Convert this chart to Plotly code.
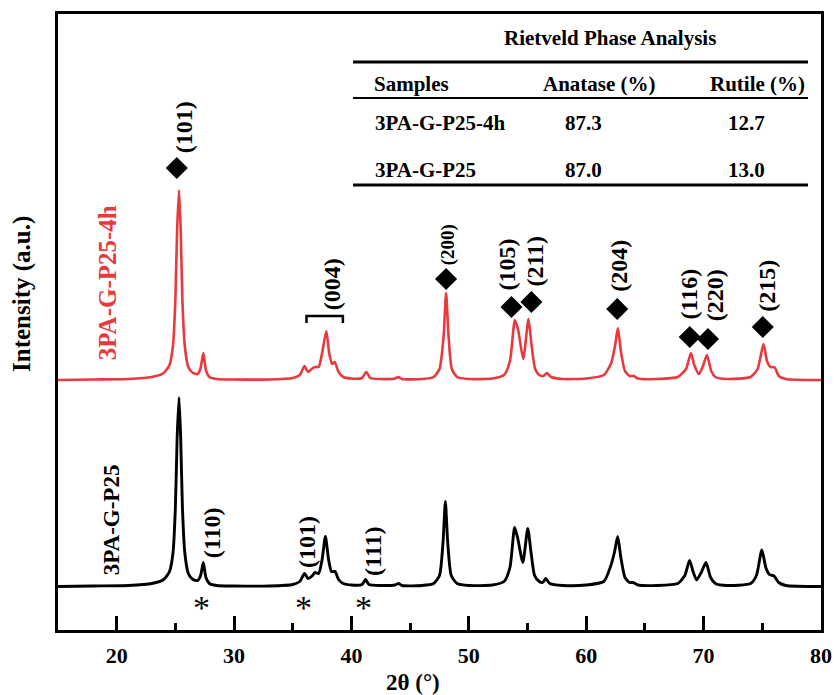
import plotly.graph_objects as go

# ---- diffraction patterns (2θ in degrees, intensity in a.u. above each baseline) ----
two_theta_p25 = [15.0, 18.0, 21.0, 23.0, 24.0, 24.5, 24.8, 25.0, 25.15, 25.31, 25.45, 25.6, 25.8, 26.1,
                 26.5, 26.9, 27.15, 27.38, 27.6, 27.9, 28.5, 30.0, 33.0, 35.0, 35.6, 36.0, 36.3, 36.6,
                 36.9, 37.2, 37.5, 37.78, 38.05, 38.3, 38.6, 38.9, 39.3, 40.0, 40.9, 41.2, 41.5, 42.5,
                 43.7, 44.0, 44.3, 46.0, 47.0, 47.5, 47.8, 48.0, 48.2, 48.5, 49.0, 50.0, 52.0, 53.0,
                 53.5, 53.9, 54.15, 54.6, 55.02, 55.3, 55.6, 56.0, 56.3, 56.55, 56.9, 58.0, 60.0, 61.5,
                 62.07, 62.4, 62.68, 62.95, 63.3, 63.7, 64.0, 64.4, 66.0, 67.8, 68.4, 68.8, 69.1, 69.4,
                 69.8, 70.2, 70.6, 71.0, 72.0, 74.0, 74.5, 74.96, 75.3, 75.6, 76.0, 76.4, 77.0, 80.0]
intensity_p25 = [1, 1.5, 2, 4, 8, 16, 35, 80, 150, 190, 150, 80, 35, 14,
                 8, 7, 12, 25, 10, 4, 2, 1.5, 1.5, 3, 6, 14, 9, 11,
                 15, 14, 28, 51, 28, 16, 16, 8, 4, 2.5, 3, 8, 3, 2,
                 2.5, 4, 2, 2, 4, 12, 45, 86, 45, 12, 4, 2, 2.5, 6,
                 20, 60, 50, 25, 59, 35, 12, 6, 5, 9, 4, 2, 2.5, 6,
                 21, 35, 51, 30, 10, 5, 5, 2.5, 2, 4, 12, 27, 16, 7.5,
                 15, 25, 10, 4, 2, 4, 12, 37.5, 20, 13, 11.5, 5, 2, 1]

two_theta_4h = [15.0, 18.0, 21.0, 23.0, 24.0, 24.5, 24.8, 25.0, 25.15, 25.31, 25.45, 25.6, 25.8, 26.1,
                26.5, 26.9, 27.15, 27.38, 27.6, 27.9, 28.5, 30.0, 33.0, 35.0, 35.6, 36.0, 36.3, 36.6,
                36.9, 37.2, 37.5, 37.86, 38.1, 38.35, 38.57, 38.9, 39.3, 40.0, 40.9, 41.26, 41.6, 42.5,
                43.7, 44.0, 44.3, 46.0, 47.0, 47.5, 47.85, 48.06, 48.27, 48.55, 49.0, 50.0, 52.0, 53.0,
                53.5, 53.92, 54.2, 54.63, 55.08, 55.35, 55.65, 56.0, 56.35, 56.64, 57.0, 58.0, 60.0, 61.5,
                62.13, 62.45, 62.7, 62.95, 63.3, 63.7, 64.06, 64.4, 66.0, 67.8, 68.5, 68.92, 69.2, 69.6,
                69.95, 70.28, 70.65, 71.0, 72.0, 74.0, 74.6, 75.1, 75.4, 75.7, 76.04, 76.4, 77.0, 80.0]
intensity_4h = [1, 1.5, 2, 4, 8, 16, 36, 82, 152, 191, 152, 80, 35, 14,
                8, 7, 13, 28, 11, 4, 2, 1.5, 1.5, 3, 6, 15, 9, 12,
                14, 14, 28, 50, 28, 17, 19, 9, 4, 2.5, 3, 9, 3, 2,
                2.5, 4, 2, 2, 4, 12, 45, 88, 45, 12, 4, 2, 2.5, 6,
                20, 61, 51, 22, 62, 35, 12, 6, 5, 8, 4, 2, 2.5, 6,
                18, 35, 53, 30, 10, 5, 5, 2.5, 2, 4, 12, 28, 16, 7,
                15, 26, 10, 4, 2, 4, 12, 37, 20, 14, 13.7, 5, 2, 1]

offset_4h = 206.5  # vertical stacking offset of the 4 h pattern

# ---- anatase reflections marked on the 4 h pattern ----
anatase_hkl = ["(101)", "(200)", "(105)", "(211)", "(204)", "(116)", "(220)", "(215)"]
anatase_mark_x = [25.12, 48.06, 53.63, 55.33, 62.64, 68.82, 70.37, 75.04]
anatase_mark_y = [419.5, 308.5, 280.5, 285.5, 278.5, 250.5, 248.5, 260.5]
anatase_label_x = [25.75, 48.25, 53.29, 55.56, 62.78, 68.79, 71.0, 75.38]
anatase_label_y = [460.5, 342.5, 323.5, 326.0, 321.5, 293.5, 292.5, 301.5]
anatase_label_size = [24, 19, 24, 24, 24, 24, 24, 24]

# ---- rutile reflections marked on the P25 pattern ----
rutile_hkl = ["(110)", "(101)", "(111)"]
rutile_star_x = [27.24, 35.88, 41.06]
rutile_label_x = [28.09, 36.16, 41.77]
rutile_label_y = [55.0, 45.8, 35.8]

# ---- Rietveld phase fractions ----
table_title = "Rietveld Phase Analysis"
table_header = ["Samples", "Anatase (%)", "Rutile (%)"]
samples = ["3PA-G-P25-4h", "3PA-G-P25"]
anatase_pct = ["87.3", "87.0"]
rutile_pct = ["12.7", "13.0"]

RED = "#E8393D"
FONT = "Liberation Serif"

W, H = 837, 695
ML, MR, MT, MB = 58, 16, 14, 65


def px(x):
    return (x - ML) / (W - ML - MR)


def py(y):
    return (H - MB - y) / (H - MT - MB)


def note(x, y, text, size, ref="data", color="black", angle=0, xanchor="center"):
    xr, yr = ("x", "y") if ref == "data" else ("paper", "paper")
    return dict(x=x, y=y, xref=xr, yref=yr, text=text, textangle=angle, showarrow=False,
                xanchor=xanchor, yanchor="middle",
                font=dict(family=FONT, size=size, color=color))


fig = go.Figure()

fig.add_trace(go.Scatter(
    x=two_theta_p25, y=intensity_p25, mode="lines",
    line=dict(color="black", width=2.9, shape="spline", smoothing=0.6),
    showlegend=False, hoverinfo="skip"))

fig.add_trace(go.Scatter(
    x=two_theta_4h, y=[v + offset_4h for v in intensity_4h], mode="lines",
    line=dict(color=RED, width=2.6, shape="spline", smoothing=0.6),
    showlegend=False, hoverinfo="skip"))

# anatase diamonds
fig.add_trace(go.Scatter(
    x=anatase_mark_x, y=anatase_mark_y, mode="markers",
    marker=dict(symbol="diamond", size=17, color="black"),
    showlegend=False, hoverinfo="skip"))

annotations = []
for hkl, x, y, s in zip(anatase_hkl, anatase_label_x, anatase_label_y, anatase_label_size):
    annotations.append(note(x, y, f"<b>{hkl}</b>", s, angle=-90))

# (004) bracket label
annotations.append(note(38.37, 303.5, "<b>(004)</b>", 24, angle=-90))

for hkl, xs, xl, yl in zip(rutile_hkl, rutile_star_x, rutile_label_x, rutile_label_y):
    annotations.append(note(xl, yl, f"<b>{hkl}</b>", 24, angle=-90))
    annotations.append(note(xs, -20, "*", 34))

# sample names
annotations.append(note(19.2, 304.5, "<b>3PA-G-P25-4h</b>", 25, color=RED, angle=-90))
annotations.append(note(19.54, 67.5, "<b>3PA-G-P25</b>", 23, angle=-90))

# axis titles
annotations.append(note(px(22), py(294), "<b>Intensity (a.u.)</b>", 25, ref="paper", angle=-90))
annotations.append(note(px(413), py(682), "<b>2θ (°)</b>", 23, ref="paper"))

# table text
TS = 21
annotations.append(note(px(610), py(38), f"<b>{table_title}</b>", TS, ref="paper"))
annotations.append(note(px(372), py(84), f"<b>{table_header[0]}</b>", TS, ref="paper", xanchor="left"))
annotations.append(note(px(599), py(84), f"<b>{table_header[1]}</b>", TS, ref="paper"))
annotations.append(note(px(757), py(84), f"<b>{table_header[2]}</b>", TS, ref="paper"))
for row_y, s, a, r in zip([123, 170], samples, anatase_pct, rutile_pct):
    annotations.append(note(px(373), py(row_y), f"<b>{s}</b>", TS, ref="paper", xanchor="left"))
    annotations.append(note(px(583), py(row_y), f"<b>{a}</b>", TS, ref="paper"))
    annotations.append(note(px(746), py(row_y), f"<b>{r}</b>", TS, ref="paper"))

shapes = [
    dict(type="line", xref="paper", yref="paper", x0=px(353), x1=px(808), y0=py(62), y1=py(62),
         line=dict(color="black", width=3)),
    dict(type="line", xref="paper", yref="paper", x0=px(353), x1=px(808), y0=py(98), y1=py(98),
         line=dict(color="black", width=2)),
    dict(type="line", xref="paper", yref="paper", x0=px(353), x1=px(808), y0=py(185), y1=py(185),
         line=dict(color="black", width=3)),
    # bracket spanning the (004) region of the 4 h pattern
    dict(type="path", xref="x", yref="y",
         path="M 36.17 264.5 L 36.17 271.5 L 39.27 271.5 L 39.27 264.5",
         line=dict(color="black", width=2.5)),
]

fig.update_layout(
    template="none",
    width=W, height=H, autosize=False,
    margin=dict(l=ML, r=MR, t=MT, b=MB, pad=0, autoexpand=False),
    paper_bgcolor="white", plot_bgcolor="white",
    annotations=annotations, shapes=shapes,
    showlegend=False,
)

fig.update_xaxes(
    range=[15, 80], tickvals=[20, 30, 40, 50, 60, 70, 80],
    ticks="inside", ticklen=14, tickwidth=2.5, tickcolor="black",
    minor=dict(tickvals=[25, 35, 45, 55, 65, 75], ticks="inside", ticklen=7, tickwidth=2.5, tickcolor="black"),
    showline=True, linecolor="black", linewidth=2.8, mirror=True,
    showgrid=False, zeroline=False, automargin=False,
    tickfont=dict(family=FONT, size=22, color="black", weight="bold"),
    ticklabelstandoff=4,
)
fig.update_yaxes(
    range=[-42.5, 573.5], showticklabels=False, ticks="",
    showline=True, linecolor="black", linewidth=2.8, mirror=True,
    showgrid=False, zeroline=False, automargin=False,
)

fig.write_html("out.html", config={"responsive": False})
